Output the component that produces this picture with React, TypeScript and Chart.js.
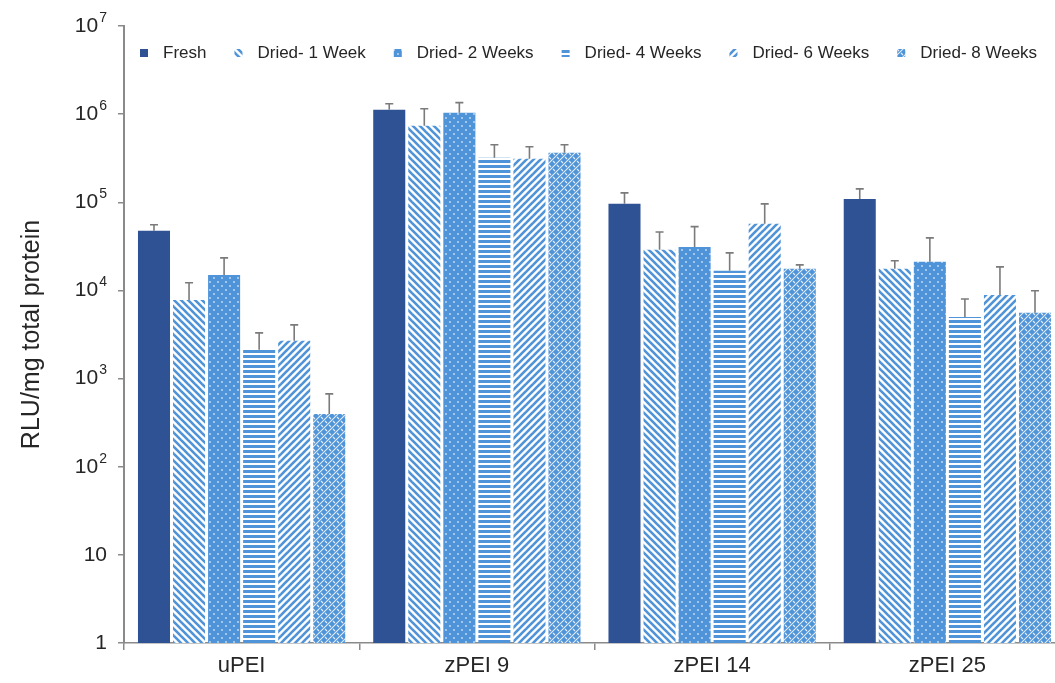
import React, { useEffect, useRef } from 'react';
import { Chart, registerables } from 'chart.js';

Chart.register(...registerables);

// Formulations on the x axis
const categories = ['uPEI', 'zPEI 9', 'zPEI 14', 'zPEI 25'];

// Storage conditions (one dataset each)
const seriesNames = ['Fresh', 'Dried- 1 Week', 'Dried- 2 Weeks', 'Dried- 4 Weeks', 'Dried- 6 Weeks', 'Dried- 8 Weeks'];

// Mean RLU/mg total protein
const fresh = [47500, 1120000, 96000, 109000];
const dried1Week = [7800, 738000, 28900, 17600];
const dried2Weeks = [15000, 1040000, 31000, 21100];
const dried4Weeks = [2120, 320000, 16700, 5000];
const dried6Weeks = [2680, 312000, 57000, 8900];
const dried8Weeks = [397, 365000, 17600, 5570];

// Upper error (SD) for each mean
const freshSd = [8100, 190000, 32000, 33000];
const dried1WeekSd = [4400, 412000, 17100, 4100];
const dried2WeeksSd = [8400, 310000, 22000, 18400];
const dried4WeeksSd = [1180, 130000, 10000, 3000];
const dried6WeeksSd = [1390, 115000, 39000, 9600];
const dried8WeeksSd = [273, 85000, 1900, 4330];

// Log-axis ticks: base text and exponent drawn as a superscript
const yTickValues = [1, 10, 100, 1000, 10000, 100000, 1000000, 10000000];
const yTickBases = ['1', '10', '10', '10', '10', '10', '10', '10'];
const yTickExponents = ['', '', '2', '3', '4', '5', '6', '7'];

const seriesValues = [fresh, dried1Week, dried2Weeks, dried4Weeks, dried6Weeks, dried8Weeks];
const seriesSd = [freshSd, dried1WeekSd, dried2WeeksSd, dried4WeeksSd, dried6WeeksSd, dried8WeeksSd];

const DARK = '#2F5294';
const BLUE = '#4F93D8';
const AXIS = '#8a8a8a';
const TEXT = '#262626';
const FONT = '"Liberation Sans", Arial, sans-serif';

function makeTile(size: number, draw: (g: CanvasRenderingContext2D, s: number) => void): CanvasPattern | string {
  const c = document.createElement('canvas');
  c.width = size;
  c.height = size;
  const g = c.getContext('2d');
  if (!g) return BLUE;
  draw(g, size);
  return g.createPattern(c, 'repeat') || BLUE;
}

function diagonal(back: boolean) {
  return makeTile(7, (g, s) => {
    g.fillStyle = '#ffffff';
    g.fillRect(0, 0, s, s);
    g.strokeStyle = BLUE;
    g.lineWidth = 2.6;
    for (const k of [-1, 0, 1]) {
      g.beginPath();
      if (back) {
        g.moveTo(k * s - 1, -1);
        g.lineTo(k * s + s + 1, s + 1);
      } else {
        g.moveTo(k * s - 1, s + 1);
        g.lineTo(k * s + s + 1, -1);
      }
      g.stroke();
    }
  });
}

function buildFills() {
  const dots = makeTile(8, (g, s) => {
    g.fillStyle = BLUE;
    g.fillRect(0, 0, s, s);
    g.fillStyle = 'rgba(255,255,255,0.7)';
    g.beginPath();
    g.arc(2, 2, 0.9, 0, Math.PI * 2);
    g.arc(6, 6, 0.9, 0, Math.PI * 2);
    g.fill();
  });
  const horizontal = makeTile(5, (g, s) => {
    g.fillStyle = '#ffffff';
    g.fillRect(0, 0, s, s);
    g.fillStyle = BLUE;
    g.fillRect(0, 0, s, 3);
  });
  const weave = makeTile(8, (g, s) => {
    g.fillStyle = BLUE;
    g.fillRect(0, 0, s, s);
    g.strokeStyle = 'rgba(255,255,255,0.85)';
    g.lineWidth = 1.1;
    for (const k of [-1, 0, 1]) {
      g.beginPath();
      g.moveTo(k * s - 1, s + 1);
      g.lineTo(k * s + s + 1, -1);
      g.stroke();
    }
    g.beginPath();
    g.moveTo(1, 1);
    g.lineTo(3, 3);
    g.moveTo(5, 5);
    g.lineTo(7, 7);
    g.stroke();
  });
  return [DARK, diagonal(true), dots, horizontal, diagonal(false), weave];
}

const errorBarsPlugin = {
  id: 'errorBars',
  afterDatasetsDraw(chart: any) {
    const ctx: CanvasRenderingContext2D = chart.ctx;
    const yScale = chart.scales.y;
    chart.data.datasets.forEach((ds: any, i: number) => {
      const meta = chart.getDatasetMeta(i);
      meta.data.forEach((bar: any, j: number) => {
        const top = yScale.getPixelForValue(ds.data[j] + seriesSd[i][j]);
        ctx.save();
        ctx.strokeStyle = '#7b7b7b';
        ctx.lineWidth = 1.6;
        ctx.beginPath();
        ctx.moveTo(bar.x, bar.y);
        ctx.lineTo(bar.x, top);
        ctx.moveTo(bar.x - 4, top);
        ctx.lineTo(bar.x + 4, top);
        ctx.stroke();
        ctx.restore();
      });
    });
  },
};

// Power-of-ten labels with a raised exponent
const yLabelsPlugin = {
  id: 'yPowerLabels',
  afterDraw(chart: any) {
    const ctx: CanvasRenderingContext2D = chart.ctx;
    const yScale = chart.scales.y;
    const right = chart.chartArea.left - 17;
    ctx.save();
    ctx.fillStyle = TEXT;
    ctx.textBaseline = 'middle';
    ctx.textAlign = 'left';
    yTickValues.forEach((v, i) => {
      const y = yScale.getPixelForValue(v);
      ctx.font = `21px ${FONT}`;
      const base = yTickBases[i];
      const bw = ctx.measureText(base).width;
      ctx.font = `14px ${FONT}`;
      const exp = yTickExponents[i];
      const ew = exp ? ctx.measureText(exp).width + 1 : 0;
      const x0 = right - bw - ew;
      ctx.font = `21px ${FONT}`;
      ctx.fillText(base, x0, y);
      if (exp) {
        ctx.font = `14px ${FONT}`;
        ctx.fillText(exp, x0 + bw + 1, y - 8);
      }
    });
    ctx.restore();
  },
};

const innerLegendPlugin = {
  id: 'innerLegend',
  afterDraw(chart: any) {
    const ctx: CanvasRenderingContext2D = chart.ctx;
    const area = chart.chartArea;
    let x = area.left + 16;
    const y = area.top + 27;
    ctx.save();
    ctx.font = `17px ${FONT}`;
    ctx.textBaseline = 'middle';
    ctx.fillStyle = TEXT;
    chart.data.datasets.forEach((ds: any) => {
      ctx.fillStyle = ds.backgroundColor;
      ctx.fillRect(x, y - 4, 8, 8);
      ctx.fillStyle = TEXT;
      ctx.fillText(ds.label, x + 23, y);
      x += 23 + ctx.measureText(ds.label).width + 28;
    });
    ctx.restore();
  },
};

export default function App() {
  const canvasRef = useRef<HTMLCanvasElement | null>(null);

  useEffect(() => {
    const canvas = canvasRef.current;
    if (!canvas) return;
    const fills = buildFills();
    const chart = new Chart(canvas, {
      type: 'bar',
      data: {
        labels: categories,
        datasets: seriesNames.map((name, i) => ({
          label: name,
          data: seriesValues[i],
          backgroundColor: fills[i] as any,
          borderWidth: 0,
          categoryPercentage: 0.894,
          barPercentage: 0.914,
        })),
      },
      options: {
        responsive: false,
        animation: false,
        devicePixelRatio: 1,
        layout: { padding: { top: 26, right: 3, left: 0, bottom: 0 } },
        plugins: {
          legend: { display: false },
          tooltip: { enabled: false },
        },
        scales: {
          x: {
            type: 'category',
            offset: true,
            grid: { display: true, offset: true, drawOnChartArea: false, tickLength: 7, color: AXIS, lineWidth: 1.5 },
            border: { display: true, color: AXIS, width: 1.5 },
            ticks: { color: TEXT, font: { family: FONT, size: 22 }, padding: 3 },
            afterFit: (scale: any) => {
              scale.height = 40;
            },
          },
          y: {
            type: 'logarithmic',
            min: 1,
            max: 10000000,
            afterBuildTicks: (scale: any) => {
              scale.ticks = yTickValues.map((v) => ({ value: v }));
            },
            grid: { display: true, drawOnChartArea: false, tickLength: 6, color: AXIS, lineWidth: 1.5 },
            border: { display: true, color: AXIS, width: 2 },
            ticks: { display: false },
            title: {
              display: true,
              text: 'RLU/mg total protein',
              color: TEXT,
              font: { family: FONT, size: 25 },
              padding: 17,
            },
            afterFit: (scale: any) => {
              scale.width = 124;
            },
          },
        },
      },
      plugins: [errorBarsPlugin, yLabelsPlugin, innerLegendPlugin],
    });
    return () => chart.destroy();
  }, []);

  return (
    <div style={{ position: 'fixed', left: 0, top: 0, width: 1055, height: 683, overflow: 'hidden', background: '#ffffff' }}>
      <canvas ref={canvasRef} width={1068} height={683} style={{ display: 'block' }} />
    </div>
  );
}
